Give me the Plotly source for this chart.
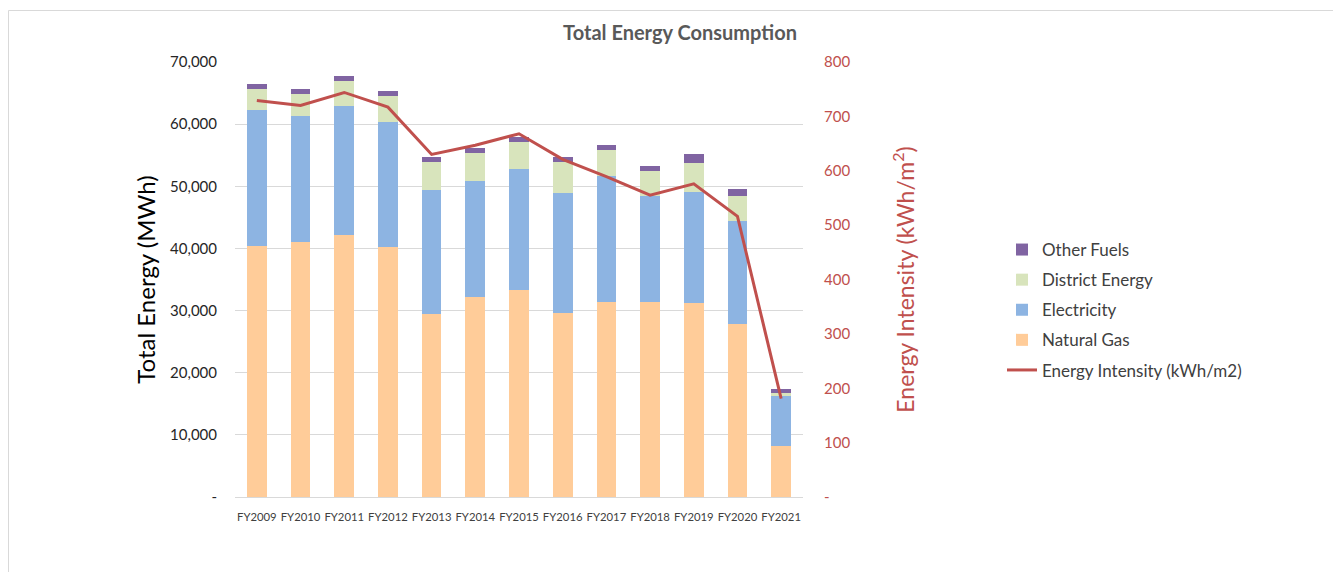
import plotly.graph_objects as go

years = ["FY2009", "FY2010", "FY2011", "FY2012", "FY2013", "FY2014", "FY2015",
         "FY2016", "FY2017", "FY2018", "FY2019", "FY2020", "FY2021"]
natural_gas = [40350, 41100, 42150, 40250, 29450, 32200, 33350, 29650, 31450, 31450, 31250, 27850, 8150]
electricity = [21850, 20150, 20800, 20150, 19950, 18650, 19400, 19350, 20150, 17050, 17900, 16550, 8150]
district_energy = [3450, 3600, 4050, 4200, 4500, 4550, 4450, 4850, 4300, 3950, 4550, 4000, 400]
other_fuels = [800, 750, 750, 750, 750, 750, 700, 800, 800, 800, 1450, 1150, 630]
energy_intensity = [729, 720, 744, 717, 630, 647, 668, 621, 589, 555, 576, 516, 181]

left_ticks = [0, 10000, 20000, 30000, 40000, 50000, 60000, 70000]
left_ticktext = ["-", "10,000", "20,000", "30,000", "40,000", "50,000", "60,000", "70,000"]
right_ticks = [0, 100, 200, 300, 400, 500, 600, 700, 800]
right_ticktext = ["-", "100", "200", "300", "400", "500", "600", "700", "800"]

FONT = "Lato"

fig = go.Figure()
bar_specs = [
    ("Natural Gas", natural_gas, "#FFCC99", 4),
    ("Electricity", electricity, "#8DB4E2", 3),
    ("District Energy", district_energy, "#D8E4BC", 2),
    ("Other Fuels", other_fuels, "#8064A2", 1),
]
for name, vals, col, rank in bar_specs:
    fig.add_trace(go.Bar(
        x=years, y=vals, name=name, marker=dict(color=col, line=dict(width=0)),
        legendrank=rank, legendgroup=name, yaxis="y"))

fig.add_trace(go.Scatter(
    x=years, y=energy_intensity, name="Energy Intensity (kWh/m2)", mode="lines",
    line=dict(color="#C0504D", width=3), yaxis="y2", legendrank=5, legendgroup="ei"))

# page offset of 8px (body margin)
OFF = 8
W, H = 1325, 564
pl, pr, pt, pb = 235 - OFF, 803 - OFF, 62 - OFF, 497 - OFF
ml, mr, mt, mb = pl, W - pr, pt, H - pb
pw, ph = pr - pl, pb - pt

def px_x(x):
    return (x - OFF - ml) / pw

def px_y(y):
    return (pb - (y - OFF)) / ph

fig.update_layout(
    width=W, height=H,
    margin=dict(l=ml, r=mr, t=mt, b=mb, autoexpand=False),
    paper_bgcolor="white", plot_bgcolor="white",
    barmode="stack", bargap=0.55,
    font=dict(family=FONT, color="#404040"),
    title=dict(text="<b>Total Energy Consumption</b>", x=px_x(680), xref="paper", xanchor="center",
               y=1 - (33 - OFF) / H, yanchor="middle", font=dict(size=20, color="#595959", family=FONT)),
    xaxis=dict(tickfont=dict(size=11.3, color="#404040"), showgrid=False, showline=True,
               linecolor="#D9D9D9", linewidth=1, ticks="", ticklabelstandoff=9),
    yaxis=dict(range=[0, 70000], tickvals=left_ticks, ticktext=left_ticktext,
               tickfont=dict(size=15, color="#262626"), showgrid=True, gridcolor="#D9D9D9",
               gridwidth=1, zeroline=False, ticks="", ticklabelstandoff=17,
               title=dict(text="Total Energy (MWh)", font=dict(size=24, color="#000000"), standoff=7)),
    yaxis2=dict(range=[0, 800], tickvals=right_ticks, ticktext=right_ticktext, overlaying="y",
                side="right", tickfont=dict(size=15, color="#C0504D"), showgrid=False,
                zeroline=False, ticks="", ticklabelstandoff=20,
                title=dict(text="Energy Intensity (kWh/m<sup>2</sup>)",
                           font=dict(size=23, color="#C0504D"), standoff=48)),
    legend=dict(x=px_x(1002), xanchor="left", y=px_y(310), yanchor="middle",
                traceorder="grouped", tracegroupgap=5,
                font=dict(size=17, color="#404040"), itemwidth=30,
                bgcolor="rgba(0,0,0,0)"),
    showlegend=True,
    shapes=[dict(type="rect", xref="paper", yref="paper",
                 x0=px_x(8.5), x1=px_x(OFF + W + 2), y0=px_y(OFF + H + 2), y1=px_y(10.5),
                 line=dict(color="#D9D9D9", width=1), fillcolor="rgba(0,0,0,0)", layer="below")],
)

fig.write_html("out.html")
